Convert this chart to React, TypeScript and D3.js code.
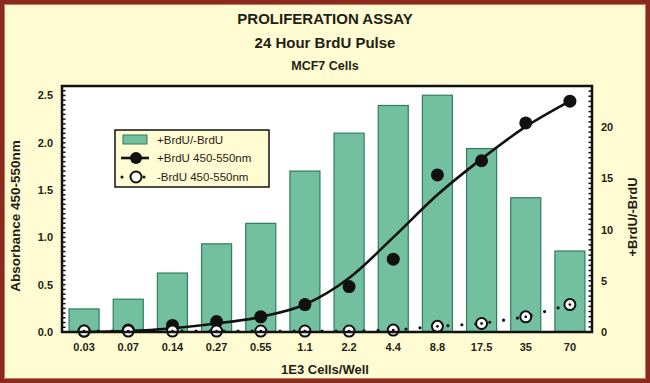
import React from "react";
import * as d3 from "d3";

const categories = ["0.03", "0.07", "0.14", "0.27", "0.55", "1.1", "2.2", "4.4", "8.8", "17.5", "35", "70"];
const ratioBars = [2.25, 3.2, 5.75, 8.6, 10.6, 15.7, 19.4, 22.1, 23.1, 17.9, 13.1, 7.9];
const plusBrdU = [0.01, 0.02, 0.07, 0.11, 0.16, 0.29, 0.48, 0.77, 1.66, 1.81, 2.21, 2.44];
const plusBrdUFit = [0.0, 0.01, 0.04, 0.09, 0.16, 0.29, 0.57, 1.0, 1.45, 1.83, 2.17, 2.44];
const minusBrdU = [0.01, 0.01, 0.01, 0.01, 0.01, 0.01, 0.01, 0.02, 0.06, 0.09, 0.16, 0.29];
const leftTicks = [0, 0.5, 1.0, 1.5, 2.0, 2.5];
const rightTicks = [0, 5, 10, 15, 20];

const W = 650, H = 383;
const L = 62, R = 592, T = 86, B = 332;
const BG = "#fffbd2";
const TXT = "#1f1f14";
const FONT = "'Liberation Sans', Arial, sans-serif";

export default function App() {
  const x = d3.scaleBand<string>().domain(categories).range([L, R]).paddingInner(0.32).paddingOuter(0.16);
  const yL = d3.scaleLinear().domain([0, 2.6]).range([B, T]);
  const yR = d3.scaleLinear().domain([0, 24]).range([B, T]);
  const cx = (i: number) => (x(categories[i]) as number) + x.bandwidth() / 2;

  const fitLine = d3.line<number>().x((_, i) => cx(i)).y((d) => yL(d)).curve(d3.curveMonotoneX);
  const dotLine = d3.line<number>().x((_, i) => cx(i)).y((d) => yL(d));

  const minorL = d3.range(0, 2.6001, 0.05);
  const minorR = d3.range(0, 24.001, 0.5);

  return (
    <svg width={W} height={H} style={{ position: "absolute", left: 0, top: 0 }} fontFamily={FONT}>
      <rect x={0} y={0} width={W} height={H} fill={BG} />
      <rect x={2} y={2} width={W - 4} height={H - 4} fill="none" stroke="#8a2a1e" strokeWidth={4} />
      <rect x={4.5} y={4.5} width={W - 9} height={H - 9} fill="none" stroke="#c97a5c" strokeWidth={1} />

      <text x={325} y={24} textAnchor="middle" fontWeight="bold" fontSize={15} fill={TXT}>PROLIFERATION ASSAY</text>
      <text x={325} y={48} textAnchor="middle" fontWeight="bold" fontSize={15} fill={TXT}>24 Hour BrdU Pulse</text>
      <text x={325} y={70} textAnchor="middle" fontWeight="bold" fontSize={12.5} fill={TXT}>MCF7 Cells</text>

      <rect x={L} y={T} width={R - L} height={B - T} fill="#ffffff" />

      {ratioBars.map((v, i) => (
        <rect key={"b" + i} x={x(categories[i]) as number} y={yR(v)} width={x.bandwidth()} height={B - yR(v)}
          fill="#72c0a0" stroke="#2f7d5c" strokeWidth={1.2} />
      ))}

      {minorL.map((v, i) => (
        <line key={"ml" + i} x1={L} x2={L + 3.5} y1={yL(v)} y2={yL(v)} stroke="#111" strokeWidth={1.5} />
      ))}
      {minorR.map((v, i) => (
        <line key={"mr" + i} x1={R} x2={R - 3.5} y1={yR(v)} y2={yR(v)} stroke="#111" strokeWidth={1.5} />
      ))}

      <path d={dotLine(minusBrdU) || ""} fill="none" stroke="#111" strokeWidth={3.2} strokeDasharray="0,14" strokeLinecap="round" />
      <path d={fitLine(plusBrdUFit) || ""} fill="none" stroke="#111" strokeWidth={2.6} />

      {plusBrdU.map((v, i) => (
        <circle key={"p" + i} cx={cx(i)} cy={yL(v)} r={6.5} fill="#111" />
      ))}
      {minusBrdU.map((v, i) => (
        <g key={"m" + i}>
          <circle cx={cx(i)} cy={yL(v)} r={5.5} fill="#fff" stroke="#111" strokeWidth={2} />
          <circle cx={cx(i)} cy={yL(v)} r={1.4} fill="#111" />
        </g>
      ))}

      <rect x={L} y={T} width={R - L} height={B - T} fill="none" stroke="#111" strokeWidth={2.5} />

      {leftTicks.map((v) => (
        <text key={"lt" + v} x={L - 9} y={yL(v) + 4} textAnchor="end" fontWeight="bold" fontSize={11} fill={TXT}>{v.toFixed(1)}</text>
      ))}
      {rightTicks.map((v) => (
        <text key={"rt" + v} x={R + 9} y={yR(v) + 4} textAnchor="start" fontWeight="bold" fontSize={11} fill={TXT}>{v}</text>
      ))}
      {categories.map((c, i) => (
        <text key={"xt" + c} x={cx(i)} y={351} textAnchor="middle" fontWeight="bold" fontSize={11} fill={TXT}>{c}</text>
      ))}

      <text x={325} y={374} textAnchor="middle" fontWeight="bold" fontSize={13} fill={TXT}>1E3 Cells/Well</text>
      <text transform={`translate(20,216) rotate(-90)`} textAnchor="middle" fontWeight="bold" fontSize={13.5} fill={TXT}>Absorbance 450-550nm</text>
      <text transform={`translate(637,217) rotate(-90)`} textAnchor="middle" fontWeight="bold" fontSize={13} fill={TXT}>+BrdU/-BrdU</text>

      <g>
        <rect x={115} y={130} width={154} height={57} fill={BG} stroke="#111" strokeWidth={1.5} />
        <rect x={123} y={135} width={24} height={9} fill="#72c0a0" stroke="#2f7d5c" strokeWidth={1} />
        <text x={157} y={143.5} fontSize={11.5} fill={TXT}>+BrdU/-BrdU</text>
        <line x1={121} x2={149} y1={158} y2={158} stroke="#111" strokeWidth={2.6} />
        <circle cx={136} cy={158} r={6} fill="#111" />
        <text x={157} y={162} fontSize={11.5} fill={TXT}>+BrdU 450-550nm</text>
        <line x1={122} x2={149} y1={177} y2={177} stroke="#111" strokeWidth={3} strokeDasharray="0,11" strokeLinecap="round" />
        <circle cx={136} cy={177} r={5.5} fill="#fff" stroke="#111" strokeWidth={2} />
        <text x={157} y={181} fontSize={11.5} fill={TXT}>-BrdU 450-550nm</text>
      </g>
    </svg>
  );
}
